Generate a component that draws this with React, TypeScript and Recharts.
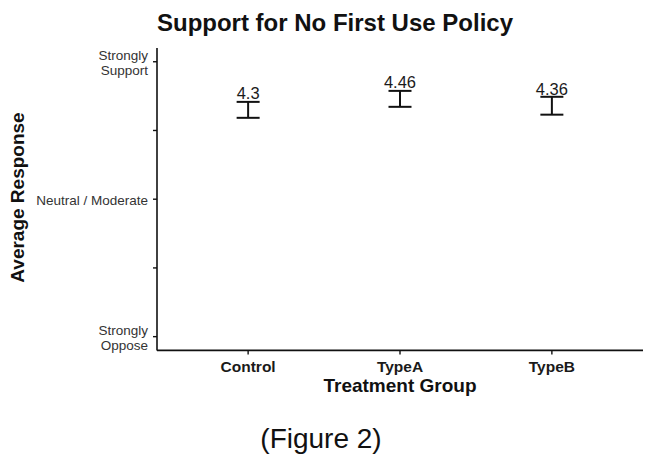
import React from 'react';
import { ComposedChart, Scatter, ErrorBar, XAxis, YAxis } from 'recharts';

// values
const groups = ['Control', 'TypeA', 'TypeB'];
const means = [4.3, 4.46, 4.36];
const errors = [0.116, 0.116, 0.13];
const yTicks = [1, 2, 3, 4, 5];
const yTickLabels: Record<number, string[]> = {
    1: ['Strongly', 'Oppose'],
    3: ['Neutral / Moderate'],
    5: ['Strongly', 'Support'],
};

const data = groups.map((g, i) => ({ x: i + 1, group: g, mean: means[i], err: errors[i] }));

const FONT = '"Liberation Sans", Arial, sans-serif';

const XTick = (props: any) => {
    const { x, y, payload } = props;
    return (
        <text x={x} y={y + 15.3} textAnchor="middle" fontFamily={FONT} fontSize={15.5} fontWeight="bold" fill="#1a1a1a">
            {groups[payload.value - 1]}
        </text>
    );
};

const YTick = (props: any) => {
    const { x, y, payload } = props;
    const lines = yTickLabels[payload.value];
    if (!lines) return null;
    if (lines.length === 1) {
        return (
            <text x={x} y={y + 5.5} textAnchor="end" fontFamily={FONT} fontSize={13.5} fill="#333">
                {lines[0]}
            </text>
        );
    }
    return (
        <text textAnchor="end" fontFamily={FONT} fontSize={13.5} fill="#333">
            <tspan x={x} y={y - 1.5}>{lines[0]}</tspan>
            <tspan x={x} y={y + 13}>{lines[1]}</tspan>
        </text>
    );
};

// no point marker, only the mean printed above the error bar
const MeanLabel = (props: any) => {
    const { cx, cy, payload } = props;
    return (
        <text x={cx} y={cy - 11} textAnchor="middle" fontFamily={FONT} fontSize={16.5} fill="#1a1a1a">
            {payload.mean}
        </text>
    );
};

export default function App() {
    return (
        <div style={{ position: 'relative', width: 648, height: 455 }}>
            <ComposedChart
                width={648}
                height={455}
                data={data}
                margin={{ top: 40, right: 13, left: 0, bottom: 82.6 }}
            >
                <XAxis
                    dataKey="x"
                    type="number"
                    domain={[0.4, 3.6]}
                    ticks={[1, 2, 3]}
                    height={30}
                    tickSize={4}
                    tickMargin={2}
                    tick={<XTick />}
                    axisLine={{ stroke: '#111', strokeWidth: 1.6 }}
                    tickLine={{ stroke: '#111', strokeWidth: 1.4 }}
                    allowDataOverflow
                />
                <YAxis
                    dataKey="mean"
                    type="number"
                    domain={[0.8, 5.2]}
                    ticks={yTicks}
                    width={149}
                    tickSize={4}
                    tickMargin={5}
                    tick={<YTick />}
                    axisLine={{ stroke: '#111', strokeWidth: 1.6 }}
                    tickLine={{ stroke: '#111', strokeWidth: 1.4 }}
                    allowDataOverflow
                />
                <Scatter dataKey="mean" isAnimationActive={false} shape={<MeanLabel />}>
                    <ErrorBar dataKey="err" direction="y" width={11.5} stroke="#111" strokeWidth={2} isAnimationActive={false} />
                </Scatter>
            </ComposedChart>
            <svg width={648} height={455} style={{ position: 'absolute', left: 0, top: 0, pointerEvents: 'none' }}>
                <text x={327} y={23} textAnchor="middle" fontFamily={FONT} fontSize={24} fontWeight="bold" fill="#111">
                    Support for No First Use Policy
                </text>
                <text x={16} y={189.5} transform="rotate(-90 16 189.5)" textAnchor="middle" fontFamily={FONT} fontSize={19} fontWeight="bold" fill="#111">
                    Average Response
                </text>
                <text x={392} y={384} textAnchor="middle" fontFamily={FONT} fontSize={19} fontWeight="bold" fill="#111">
                    Treatment Group
                </text>
                <text x={313} y={440} textAnchor="middle" fontFamily={FONT} fontSize={28} fill="#111">
                    (Figure 2)
                </text>
            </svg>
        </div>
    );
}
